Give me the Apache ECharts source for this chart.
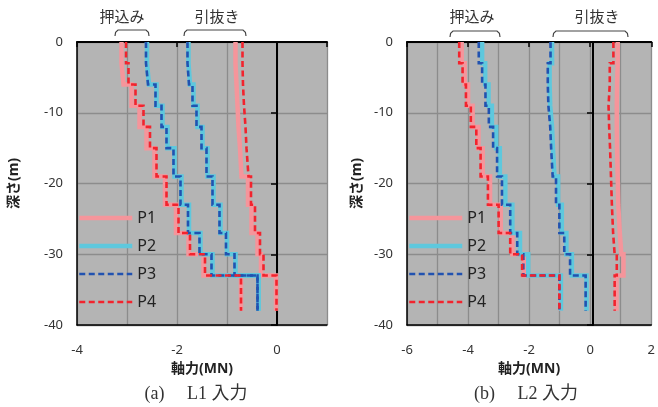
<!DOCTYPE html>
<html>
<head>
<meta charset="utf-8">
<script src="https://cdn.jsdelivr.net/npm/echarts@6/dist/echarts.min.js"></script>
<style>
  html, body { margin: 0; padding: 0; background: #fff; }
  #chart { width: 658px; height: 407px; }
</style>
</head>
<body>
<div id="chart"></div>
<script>
// layer boundaries (m), shared by every pile line
const depths = [0, -3, -6, -9, -12, -15, -19, -23, -27, -30, -33, -38];

// (a) L1 input, axial force per layer (MN)
const l1PushP1 = [-3.11, -3.07, -2.91, -2.75, -2.61, -2.45, -2.24, -2.02, -1.77, -1.47, -0.72];
const l1PushP2 = [-2.60, -2.56, -2.41, -2.29, -2.19, -2.05, -1.91, -1.76, -1.53, -1.29, -0.37];
const l1PushP3 = [-2.62, -2.58, -2.43, -2.31, -2.21, -2.07, -1.93, -1.78, -1.55, -1.31, -0.39];
const l1PushP4 = [-3.02, -2.97, -2.83, -2.67, -2.54, -2.41, -2.21, -1.97, -1.74, -1.44, -0.72];
const l1PullP1 = [-0.83, -0.81, -0.79, -0.77, -0.74, -0.71, -0.58, -0.51, -0.39, -0.32, -0.02];
const l1PullP2 = [-1.77, -1.74, -1.67, -1.59, -1.49, -1.39, -1.27, -1.13, -1.00, -0.83, -0.37];
const l1PullP3 = [-1.79, -1.76, -1.69, -1.61, -1.51, -1.41, -1.29, -1.15, -1.02, -0.85, -0.39];
const l1PullP4 = [-0.69, -0.68, -0.66, -0.63, -0.61, -0.57, -0.52, -0.44, -0.34, -0.27, -0.01];

// (b) L2 input
const l2PushP1 = [-4.21, -4.11, -4.00, -3.85, -3.66, -3.52, -3.28, -2.93, -2.55, -2.17, -0.98];
const l2PushP2 = [-3.54, -3.44, -3.33, -3.22, -3.08, -2.96, -2.78, -2.55, -2.30, -2.03, -0.96];
const l2PushP3 = [-3.65, -3.54, -3.43, -3.32, -3.18, -3.05, -2.89, -2.62, -2.39, -2.19, -1.01];
const l2PushP4 = [-4.29, -4.18, -4.07, -3.91, -3.73, -3.59, -3.35, -3.00, -2.62, -2.23, -1.01];
const l2PullP1 = [0.90, 0.88, 0.87, 0.87, 0.88, 0.90, 0.92, 0.97, 1.02, 1.09, 0.86];
const l2PullP2 = [-1.25, -1.33, -1.31, -1.25, -1.22, -1.17, -1.05, -0.93, -0.78, -0.60, -0.12];
const l2PullP3 = [-1.30, -1.39, -1.37, -1.31, -1.28, -1.23, -1.12, -1.01, -0.85, -0.66, -0.15];
const l2PullP4 = [0.76, 0.64, 0.60, 0.62, 0.65, 0.68, 0.71, 0.75, 0.80, 0.87, 0.80];

const pileNames = ["P1", "P2", "P3", "P4"];
const l1Lines = [[l1PushP1, l1PullP1], [l1PushP2, l1PullP2], [l1PushP3, l1PullP3], [l1PushP4, l1PullP4]];
const l2Lines = [[l2PushP1, l2PullP1], [l2PushP2, l2PullP2], [l2PushP3, l2PullP3], [l2PushP4, l2PullP4]];

const pileStyles = [
  { color: "#f5959b", width: 4.5, type: "solid" },
  { color: "#5ec8dd", width: 4.5, type: "solid" },
  { color: "#2152b0", width: 2.6, type: [6, 3.5] },
  { color: "#f2232d", width: 2.6, type: [6, 3.5] },
];

// turn per-layer values into a stair line (constant value over each layer)
function stairs(vals) {
  const pts = [];
  for (let i = 0; i < vals.length; i++) {
    pts.push([vals[i], depths[i]]);
    pts.push([vals[i], depths[i + 1]]);
  }
  return pts;
}

const textColor = "#333";
const sansFont = "'Noto Sans', 'Noto Sans CJK JP', sans-serif";

function makeAxes(gridIndex, xMin, xMax, zeroOffset) {
  const xBottom = {
    gridIndex: gridIndex, type: "value", min: xMin, max: xMax, interval: 1,
    position: "bottom",
    axisLine: { show: true, onZero: false, lineStyle: { color: "#000", width: 1.5 } },
    axisTick: { show: false },
    axisLabel: {
      color: textColor, fontSize: 13, margin: 19, fontFamily: sansFont,
      formatter: (v) => (v % 2 === 0 ? String(v) : ""),
    },
    splitLine: { show: true, lineStyle: { color: "#8c8c8c", width: 1.3 } },
    name: "軸力(MN)", nameLocation: "middle", nameGap: 37,
    nameTextStyle: { color: "#222", fontSize: 14, fontWeight: "bold", fontFamily: sansFont },
  };
  const xTop = {
    gridIndex: gridIndex, type: "value", min: xMin, max: xMax, interval: 2,
    position: "top",
    axisLine: { show: true, onZero: false, lineStyle: { color: "#000", width: 2 } },
    axisTick: { show: true, inside: true, length: 5, lineStyle: { color: "#000", width: 1.5 } },
    axisLabel: { show: false },
    splitLine: { show: false },
  };
  const yLeft = {
    gridIndex: gridIndex, type: "value", min: -40, max: 0, interval: 10,
    position: "left",
    axisLine: { show: true, onZero: false, lineStyle: { color: "#000", width: 1.5 } },
    axisTick: { show: false },
    axisLabel: { color: textColor, fontSize: 13, margin: 14, fontFamily: sansFont },
    splitLine: { show: true, lineStyle: { color: "#8c8c8c", width: 1.3 } },
    name: "深さ(m)", nameLocation: "middle", nameGap: gridIndex === 0 ? 56 : 43, nameRotate: 90,
    nameTextStyle: { color: "#222", fontSize: 14, fontWeight: "bold", fontFamily: sansFont },
  };
  // black line at zero force, ticks pointing left
  const yZero = {
    gridIndex: gridIndex, type: "value", min: -40, max: 0, interval: 10,
    position: "left", offset: zeroOffset,
    axisLine: { show: true, onZero: false, lineStyle: { color: "#000", width: 2 } },
    axisTick: { show: true, length: 6, lineStyle: { color: "#000", width: 1.5 } },
    axisLabel: { show: false },
    splitLine: { show: false },
  };
  return { x: [xBottom, xTop], y: [yLeft, yZero] };
}

const a1 = makeAxes(0, -4, 1, -200);
const a2 = makeAxes(1, -6, 2, -186);

const series = [];
[l1Lines, l2Lines].forEach((group, g) => {
  group.forEach((pair, p) => {
    pair.forEach((vals) => {
      const st = pileStyles[p];
      series.push({
        name: pileNames[p],
        type: "line",
        xAxisIndex: g * 2,
        yAxisIndex: g * 2,
        symbol: "none",
        animation: false,
        itemStyle: { color: st.color },
        lineStyle: { color: st.color, width: st.width, type: st.type, cap: "butt", join: "miter" },
        data: stairs(vals),
      });
    });
  });
});

function legendAt(left) {
  return {
    data: pileNames.map((n, i) => ({
      name: n,
      itemStyle: { opacity: 0 },
      lineStyle: { color: pileStyles[i].color, width: pileStyles[i].width, type: pileStyles[i].type },
    })),
    orient: "vertical", left: left, top: 210, padding: 0,
    itemWidth: 53, itemHeight: 14, itemGap: 12,
    textStyle: { color: "#222", fontSize: 16, fontFamily: sansFont },
    selectedMode: false,
  };
}

function bracket(x1, x2, y) {
  return {
    type: "polyline",
    shape: { points: [[x1, y + 6], [x1 + 0.6, y + 2.2], [x1 + 3, y], [x2 - 3, y], [x2 - 0.6, y + 2.2], [x2, y + 6]] },
    style: { stroke: "#444", lineWidth: 1.2, fill: null },
  };
}

function label(text, cx, cy, size, font) {
  return {
    type: "text", x: cx, y: cy,
    style: { text: text, fill: "#333", font: size + "px " + font, align: "center", verticalAlign: "middle" },
  };
}

const serifFont = "'Liberation Serif', 'DejaVu Serif', 'Noto Sans CJK JP', serif";

const chart = echarts.init(document.getElementById("chart"));
chart.setOption({
  animation: false,
  backgroundColor: "#fff",
  grid: [
    { left: 77, top: 42, width: 250, height: 283, show: true, backgroundColor: "#b4b4b4", borderWidth: 0 },
    { left: 407, top: 42, width: 248, height: 283, show: true, backgroundColor: "#b4b4b4", borderWidth: 0 },
  ],
  xAxis: [...a1.x, ...a2.x],
  yAxis: [...a1.y, ...a2.y],
  legend: [legendAt(77), legendAt(407)],
  series: series,
  graphic: [
    label("押込み", 122, 18, 15, sansFont),
    bracket(115, 149, 30),
    label("引抜き", 217, 18, 15, sansFont),
    bracket(184, 246, 30),
    label("押込み", 472, 18, 15, sansFont),
    bracket(450, 500, 31),
    label("引抜き", 597, 18, 15, sansFont),
    bracket(553, 628, 31),
    label("(a)\u3000 L1 入力", 196, 394, 18, serifFont),
    label("(b)\u3000 L2 入力", 526, 394, 18, serifFont),
  ],
});
</script>
</body>
</html>
